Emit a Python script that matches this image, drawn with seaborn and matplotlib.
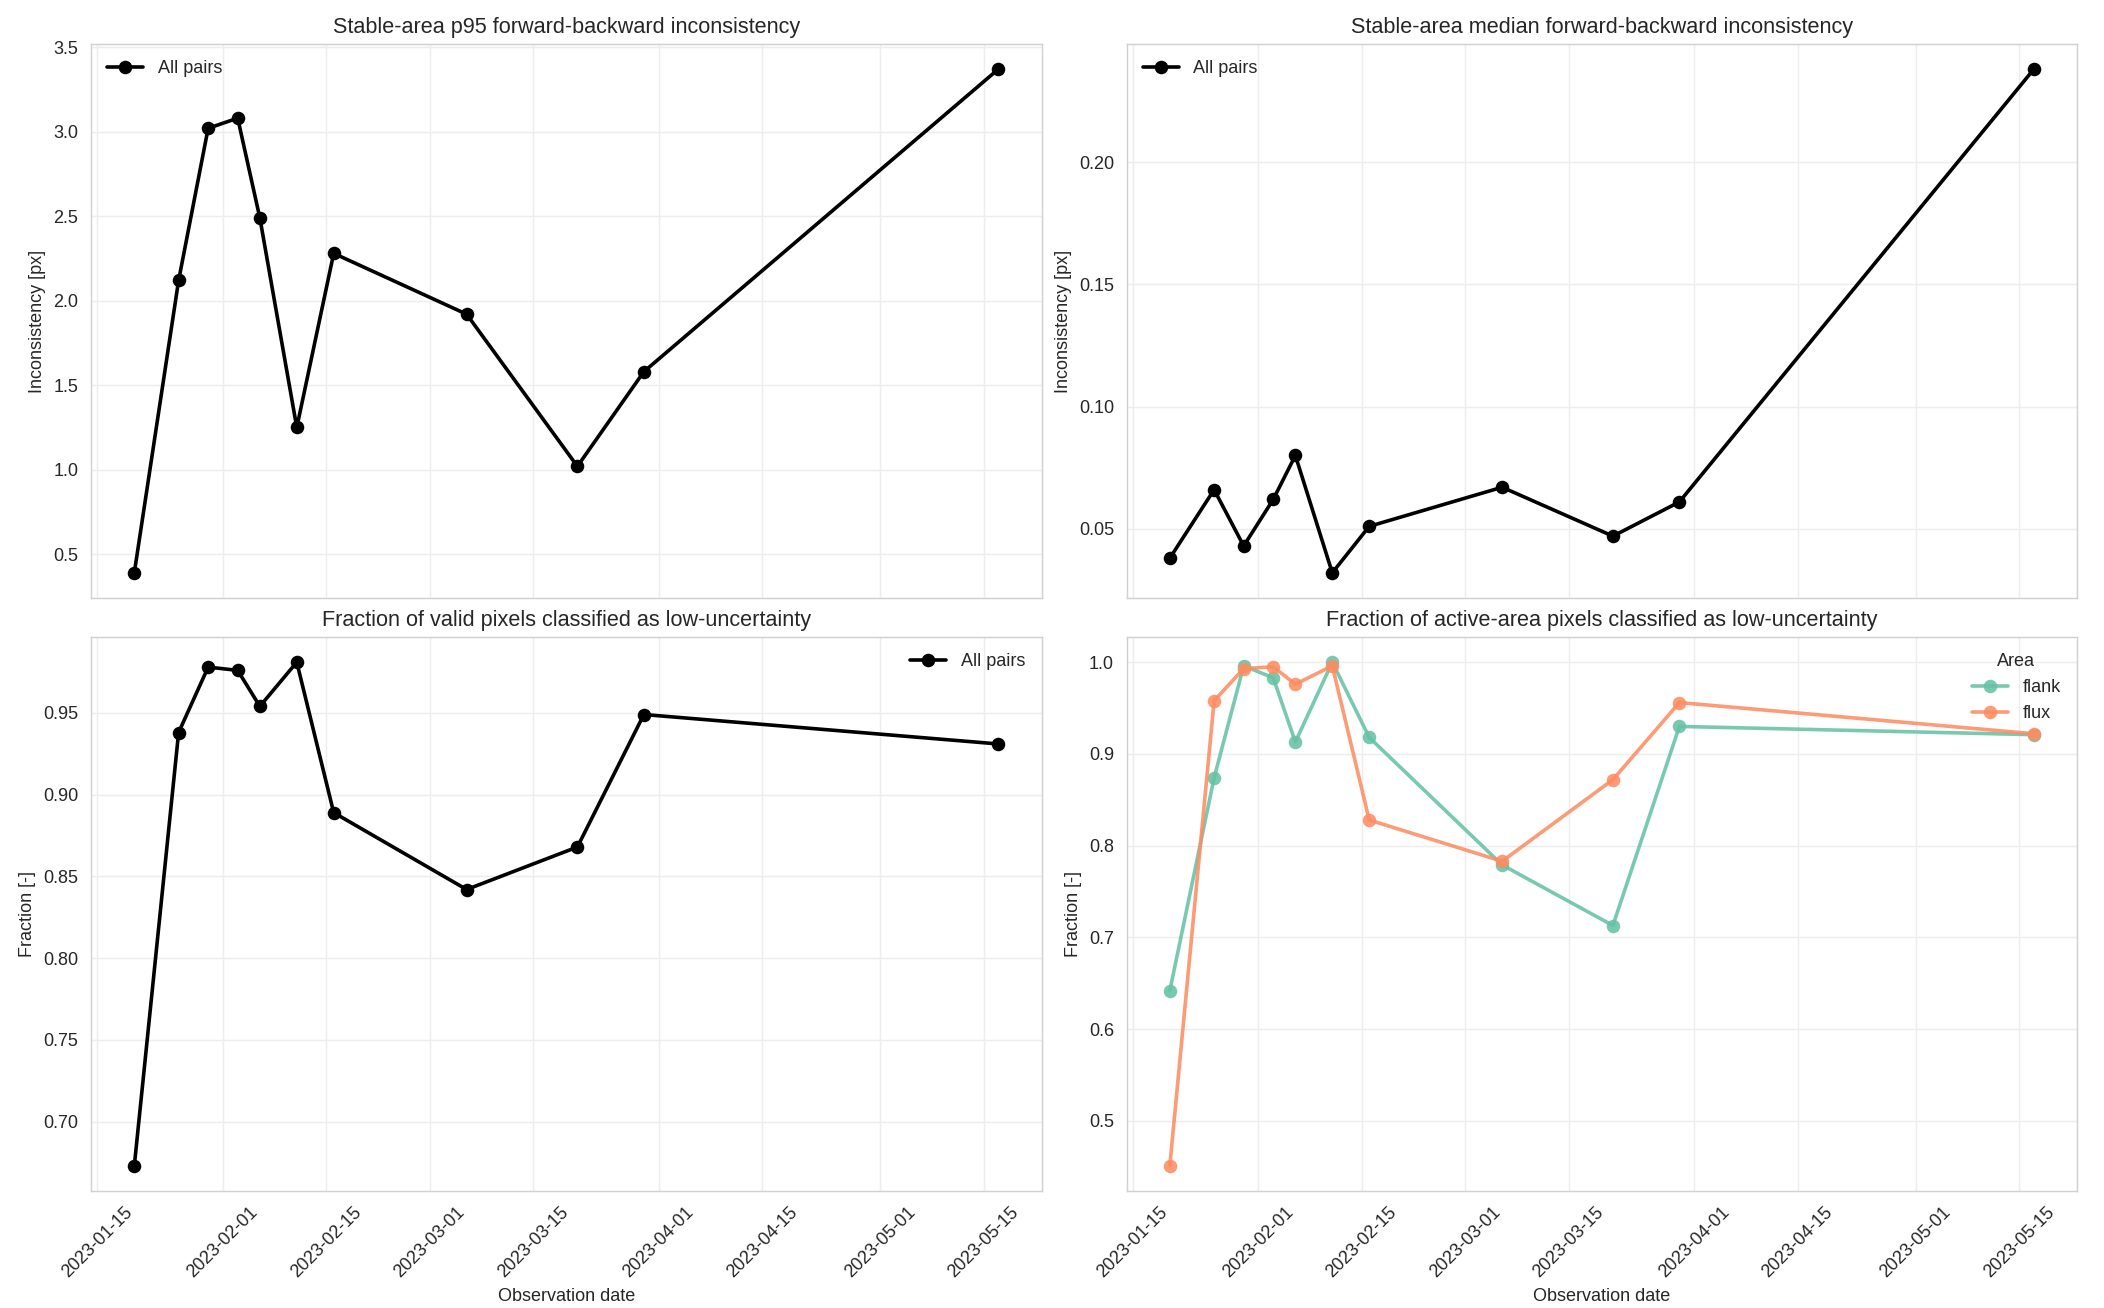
import matplotlib
matplotlib.use("Agg")
import matplotlib.pyplot as plt
import matplotlib.dates as mdates
import seaborn as sns
import pandas as pd

# fechas de observacion
dates = ["2023-01-20", "2023-01-26", "2023-01-30", "2023-02-03", "2023-02-06",
         "2023-02-11", "2023-02-16", "2023-03-06", "2023-03-21", "2023-03-30",
         "2023-05-17"]

# inconsistencia forward-backward en zona estable
p95_px = [0.39, 2.12, 3.02, 3.08, 2.49, 1.25, 2.28, 1.92, 1.02, 1.58, 3.37]
median_px = [0.038, 0.066, 0.043, 0.062, 0.080, 0.032, 0.051, 0.067, 0.047, 0.061, 0.238]

# fraccion de pixeles de baja incertidumbre
frac_valid = [0.673, 0.938, 0.978, 0.976, 0.954, 0.981, 0.889, 0.842, 0.868, 0.949, 0.931]
frac_flank = [0.642, 0.874, 0.996, 0.983, 0.913, 1.000, 0.918, 0.779, 0.713, 0.930, 0.921]
frac_flux = [0.451, 0.958, 0.993, 0.995, 0.976, 0.996, 0.828, 0.783, 0.872, 0.956, 0.922]

areas = ["flank", "flux"]

fechas = pd.to_datetime(dates)
df = pd.DataFrame({"date": fechas, "p95": p95_px, "median": median_px, "valid": frac_valid})
df_area = pd.DataFrame({
    "date": list(fechas) * 2,
    "frac": frac_flank + frac_flux,
    "Area": [areas[0]] * len(dates) + [areas[1]] * len(dates),
})

sns.set_style("whitegrid", {"axes.edgecolor": ".82", "grid.color": ".93",
                            "text.color": ".15", "axes.labelcolor": ".15"})
plt.rcParams["font.family"] = ["Liberation Sans", "DejaVu Sans"]
plt.rcParams["font.size"] = 10

fig, axes = plt.subplots(2, 2, figsize=(2104 / 130, 1308 / 130), dpi=130, sharex=True)
fig.subplots_adjust(left=0.0433, right=0.9872, top=0.9664, bottom=0.0894,
                    wspace=0.0895, hspace=0.0704)

estilo = dict(marker="o", linewidth=2, markersize=7.5, markeredgewidth=0)

ax = axes[0, 0]
sns.lineplot(data=df, x="date", y="p95", color="black", label="All pairs", ax=ax, **estilo)
ax.set_title("Stable-area p95 forward-backward inconsistency", fontsize=12)
ax.set_ylabel("Inconsistency [px]")
ax.legend(loc="upper left", frameon=False)

ax = axes[0, 1]
sns.lineplot(data=df, x="date", y="median", color="black", label="All pairs", ax=ax, **estilo)
ax.set_title("Stable-area median forward-backward inconsistency", fontsize=12)
ax.set_ylabel("Inconsistency [px]")
ax.legend(loc="upper left", frameon=False)

ax = axes[1, 0]
sns.lineplot(data=df, x="date", y="valid", color="black", label="All pairs", ax=ax, **estilo)
ax.set_title("Fraction of valid pixels classified as low-uncertainty", fontsize=12)
ax.set_ylabel("Fraction [-]")
ax.legend(loc="upper right", frameon=False)

ax = axes[1, 1]
sns.lineplot(data=df_area, x="date", y="frac", hue="Area", hue_order=areas,
             palette="Set2", alpha=0.88, ax=ax, **estilo)
ax.set_title("Fraction of active-area pixels classified as low-uncertainty", fontsize=12)
ax.set_ylabel("Fraction [-]")
ax.legend(title="Area", loc="upper right", frameon=False)

for ax in axes.flat:
    ax.xaxis.set_major_locator(mdates.DayLocator(bymonthday=[1, 15]))
    ax.xaxis.set_major_formatter(mdates.DateFormatter("%Y-%m-%d"))
    ax.set_xlabel("")
for ax in axes[1]:
    ax.set_xlabel("Observation date")
    ax.tick_params(axis="x", rotation=45)

fig.savefig("out.png", dpi=130)
